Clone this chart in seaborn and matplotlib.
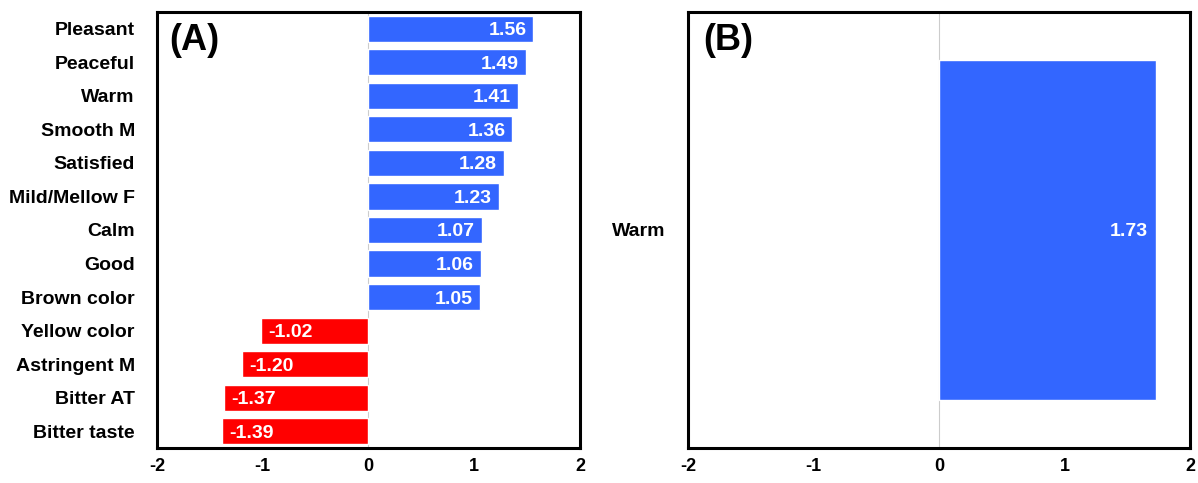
import matplotlib
matplotlib.use("Agg")
import matplotlib.pyplot as plt
import seaborn as sns
import pandas as pd

cats_a = ["Pleasant", "Peaceful", "Warm", "Smooth M", "Satisfied", "Mild/Mellow F",
          "Calm", "Good", "Brown color", "Yellow color", "Astringent M", "Bitter AT", "Bitter taste"]
vals_a = [1.56, 1.49, 1.41, 1.36, 1.28, 1.23, 1.07, 1.06, 1.05, -1.02, -1.20, -1.37, -1.39]
cats_b = ["Warm"]
vals_b = [1.73]
xticks = [-2, -1, 0, 1, 2]

BLUE = "#3366FF"
RED = "#FF0000"

sns.set_theme(style="white")
plt.rcParams['font.family'] = ['Liberation Sans', 'DejaVu Sans']
plt.rcParams['font.weight'] = 'bold'

fig = plt.figure(figsize=(11.98, 4.83), dpi=100)
axA = fig.add_axes([157/1198, 35/483, (580-157)/1198, (471-35)/483])
axB = fig.add_axes([688/1198, 35/483, (1190-688)/1198, (471-35)/483])

def draw(ax, cats, vals, label):
    df = pd.DataFrame({"cat": cats, "val": vals,
                       "sign": ["pos" if v >= 0 else "neg" for v in vals]})
    sns.barplot(data=df, y="cat", x="val", hue="sign", orient="h",
                palette={"pos": BLUE, "neg": RED}, width=0.78,
                dodge=False, legend=False, ax=ax, saturation=1)
    ax.set_xlim(-2, 2)
    ax.set_xticks(xticks)
    ax.set_xticklabels([str(t) for t in xticks], fontsize=13, fontweight='bold', color='black')
    ax.set_xlabel("")
    ax.set_ylabel("")
    ax.tick_params(axis='x', direction='in', length=5, color='#bbbbbb', width=1, pad=7)
    ax.tick_params(axis='y', length=0, pad=16)
    for t in ax.get_yticklabels():
        t.set_fontsize(14)
        t.set_fontweight('bold')
        t.set_color('black')
    for s in ax.spines.values():
        s.set_visible(True)
        s.set_color('black')
        s.set_linewidth(2.2)
    ax.axvline(0, color='#cccccc', lw=0.8, zorder=0)
    for c in ax.containers:
        for p in c:
            w = p.get_width()
            yc = p.get_y() + p.get_height() / 2
            if w >= 0:
                ax.text(w - 0.065, yc, f"{w:.2f}", ha='right', va='center_baseline',
                        color='white', fontsize=14, fontweight='bold')
            else:
                ax.text(w + 0.07, yc, f"{w:.2f}", ha='left', va='center_baseline',
                        color='white', fontsize=14, fontweight='bold')
    ax.text(0.03, 0.975, label, transform=ax.transAxes, ha='left', va='top',
            fontsize=26, fontweight='bold', color='black')

draw(axA, cats_a, vals_a, "(A)")
draw(axB, cats_b, vals_b, "(B)")

fig.savefig("out.png", dpi=100, facecolor='white')
